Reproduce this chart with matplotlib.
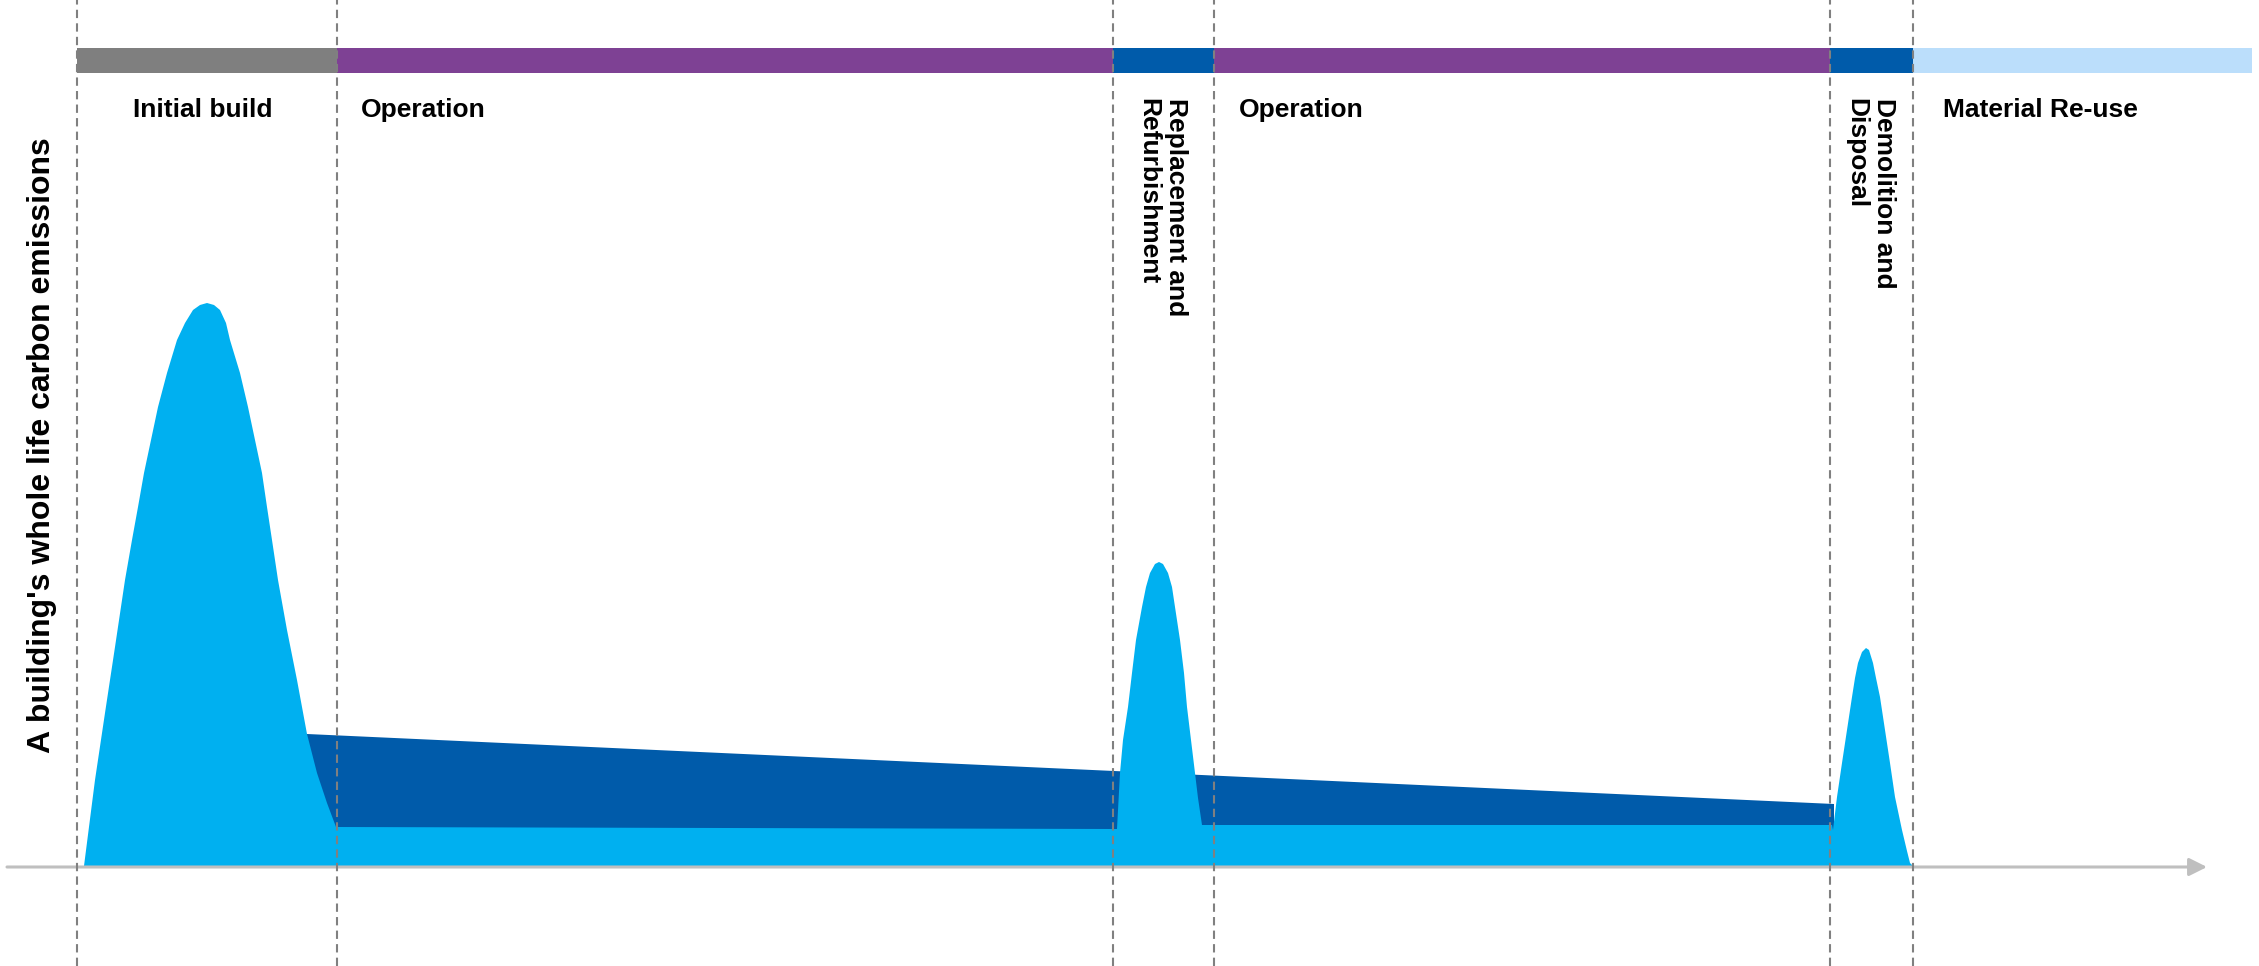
import matplotlib.pyplot as plt
from matplotlib.patches import Polygon

plt.rcParams['font.family'] = ['Liberation Sans', 'DejaVu Sans']
plt.rcParams['font.weight'] = 'bold'

# Life-cycle stages (x positions in schematic time units)
stage_names = ['Initial build', 'Operation', 'Replacement and\nRefurbishment',
               'Operation', 'Demolition and\nDisposal', 'Material Re-use']
stage_edges = [0.0, 26.0, 103.6, 113.7, 175.3, 183.6, 217.5]
stage_colors = ['#7F7F7F', '#7E4194', '#005BAA', '#7E4194', '#005BAA', '#BBDEFB']
stage_vertical = [False, False, True, False, True, False]
label_x = [5.6, 28.4, 108.5, 116.2, 179.3, 186.6]
label_top = [74.9, 74.9, 76.8, 74.9, 76.8, 74.9]

# Embodied carbon profile (light blue): build peak, slow base, refurb peak, demolition peak
embodied_x = [0.7, 1.8, 2.8, 3.8, 4.8, 5.5, 6.1, 6.7, 7.4, 8.1, 9.0, 10.0, 10.8, 11.6, 12.3,
              13.0, 13.7, 14.3, 14.9, 15.3, 16.3, 17.1, 17.8, 18.5, 19.0, 19.5, 20.1, 21.0,
              22.0, 23.0, 24.0, 25.0, 25.9,
              104.0, 104.3, 104.6, 105.1, 105.5, 105.9, 106.5, 106.9, 107.3, 107.8, 108.2,
              108.6, 109.1, 109.5, 109.8, 110.3, 110.7, 111.0, 111.4, 111.8, 112.1, 112.5,
              175.5, 175.6, 176.0, 176.5, 177.0, 177.5, 177.8, 178.1, 178.5, 178.9, 179.2,
              179.6, 179.9, 180.3, 180.8, 181.3, 181.8, 182.5, 183.0, 183.3, 183.6]
embodied_y = [0.0, 8.6, 15.3, 21.9, 28.6, 32.6, 35.9, 39.3, 42.6, 45.9, 49.3, 52.6, 54.3, 55.6, 56.1,
              56.3, 56.1, 55.6, 54.3, 52.6, 49.3, 45.9, 42.6, 39.3, 35.9, 32.6, 28.6, 23.6,
              18.6, 13.2, 9.3, 6.3, 3.9,
              3.7, 9.3, 12.6, 15.9, 19.3, 22.6, 25.9, 27.9, 29.3, 30.2, 30.4,
              30.2, 29.3, 27.9, 25.9, 22.6, 19.3, 15.9, 12.6, 9.3, 6.8, 4.1,
              4.1, 3.6, 6.9, 10.3, 13.6, 16.9, 18.8, 20.3, 21.4, 21.8, 21.6,
              20.3, 18.8, 16.9, 13.6, 10.3, 6.9, 3.6, 1.5, 0.3, 0.0]

# Operational carbon band (dark blue), top edge
operational_x = [23.0, 175.7]
operational_top = [13.2, 6.2]

fig = plt.figure(figsize=(22.59, 9.66), dpi=100)
ax = fig.add_axes([0, 0, 1, 1])
ax.set_xlim(-7.7, 218.2)
ax.set_ylim(-10.0, 86.6)
ax.axis('off')

# operational band first, embodied shapes drawn over it
op_pts = list(zip(operational_x, operational_top)) + [(operational_x[1], 0), (operational_x[0], 0)]
ax.add_patch(Polygon(op_pts, closed=True, facecolor='#005BAA', edgecolor='none', zorder=2))

emb_pts = list(zip(embodied_x, embodied_y)) + [(embodied_x[0], 0)]
ax.add_patch(Polygon(emb_pts, closed=True, facecolor='#00B0F0', edgecolor='none', zorder=3))

# stage bar along the top
spans = [(stage_edges[i], stage_edges[i + 1] - stage_edges[i]) for i in range(len(stage_names))]
ax.broken_barh(spans, (79.3, 2.5), facecolors=stage_colors, edgecolor='none', zorder=2)

for name, x, top, vert in zip(stage_names, label_x, label_top, stage_vertical):
    if vert:
        ax.text(x, top, name, rotation=270, ha='center', va='top', multialignment='left',
                fontsize=19, fontweight='bold', color='black', zorder=5)
    else:
        ax.text(x, top, name, ha='left', va='baseline', fontsize=19,
                fontweight='bold', color='black', zorder=5)

# stage boundaries
for edge in stage_edges[:-1]:
    ax.axvline(edge, color='#808080', lw=1.5, dashes=(4, 2.5), zorder=6)

# time axis arrow
ax.annotate('', xy=(213.0, -0.1), xytext=(-7.0, -0.1),
            arrowprops=dict(arrowstyle='-|>', color='#BFBFBF', lw=2.2,
                            mutation_scale=27, shrinkA=0, shrinkB=0), zorder=4)

ax.text(-3.5, 42.1, "A building's whole life carbon emissions", rotation=90,
        ha='center', va='center', fontsize=23, fontweight='bold', color='black')

fig.savefig('out.png', dpi=100)
